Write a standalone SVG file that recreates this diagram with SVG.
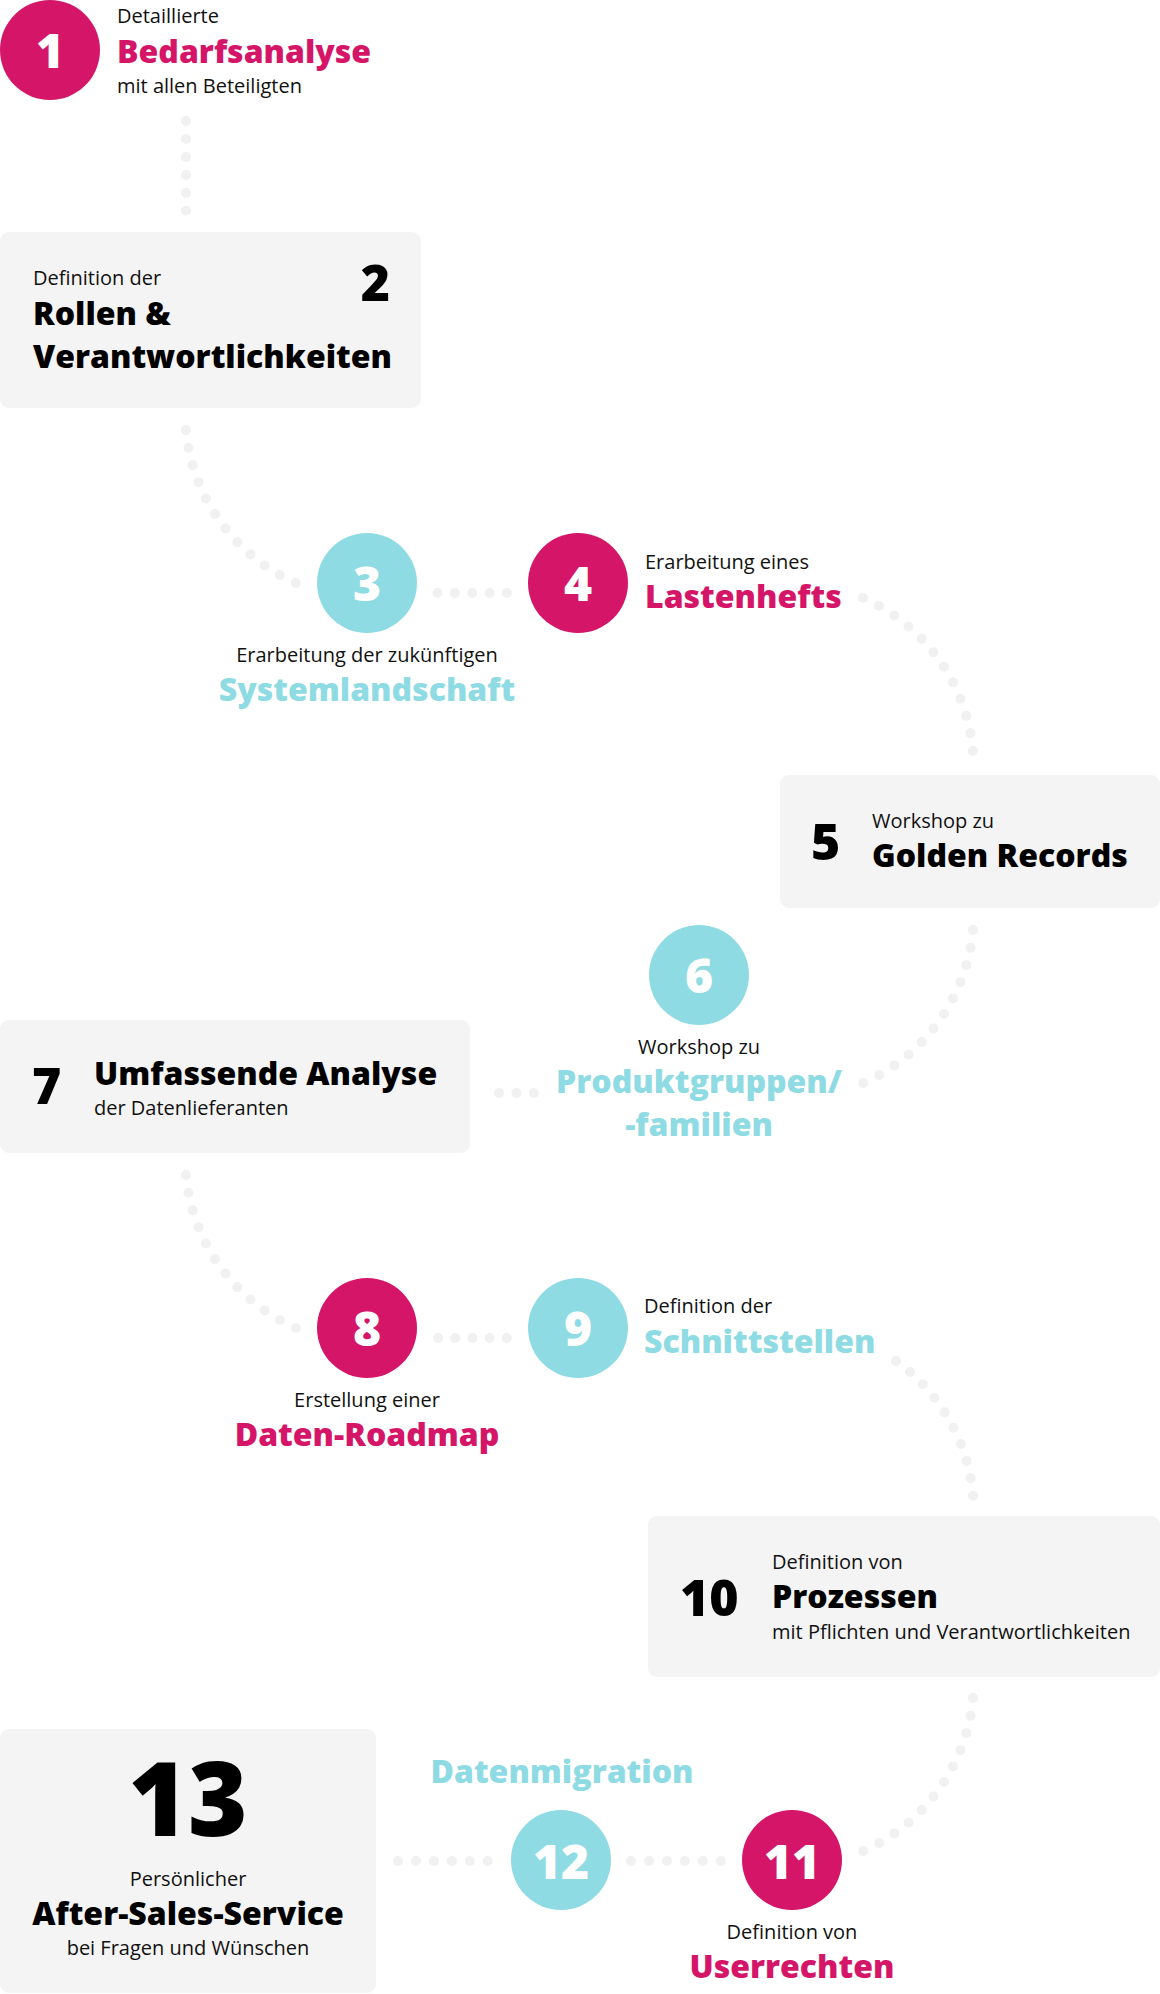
<svg xmlns="http://www.w3.org/2000/svg" width="1160" height="1994" viewBox="0 0 1160 1994">
<style>
text{font-family:"Open Sans","Noto Sans","Liberation Sans",sans-serif;}
.s{font-size:20px;font-weight:400;fill:#111;}
.h{font-size:32px;font-weight:800;}
.k{fill:#000;}
.m{fill:#d41568;}
.c{fill:#8fdbe3;}
.num{font-size:48px;font-weight:800;fill:#fff;text-anchor:middle;}
.bn{font-size:50px;font-weight:800;fill:#000;}
.mid{text-anchor:middle;}
.box{fill:#f4f4f4;}
.dot{fill:none;stroke:#f1f1f1;stroke-width:10;stroke-linecap:round;stroke-dasharray:0 1;}
</style>
<rect width="1160" height="1994" fill="#fff"/>
<g id="connectors">
<path class="dot" pathLength="5.01" d="M186,121 L186,211"/>
<path class="dot" pathLength="11.01" d="M186,430 A185.5,185.5 0 0 0 296,583"/>
<path class="dot" pathLength="4.01" d="M437.5,593 L507,593"/>
<path class="dot" pathLength="11.01" d="M863,598 A185.5,185.5 0 0 1 973,751"/>
<path class="dot" pathLength="11.01" d="M973,930 A185.5,185.5 0 0 1 863,1083"/>
<path class="dot" pathLength="2.01" d="M499,1093 L534,1093"/>
<path class="dot" pathLength="11.01" d="M186,1175 A185.5,185.5 0 0 0 296,1328"/>
<path class="dot" pathLength="4.01" d="M438,1338 L507,1338"/>
<path class="dot" pathLength="9.01" d="M896,1361 A185.5,185.5 0 0 1 973,1496"/>
<path class="dot" pathLength="11.01" d="M973,1698 A185.5,185.5 0 0 1 863,1851"/>
<path class="dot" pathLength="5.01" d="M631,1861 L721,1861"/>
<path class="dot" pathLength="5.01" d="M398,1861 L488,1861"/>
</g>
<g id="node1">
<circle cx="50" cy="50" r="50" class="m"/>
<text x="50" y="68" class="num">1</text>
<text x="117" y="23" class="s">Detaillierte</text>
<text x="117" y="63" class="h m">Bedarfsanalyse</text>
<text x="117" y="93" class="s">mit allen Beteiligten</text>
</g>
<g id="node2">
<rect x="0" y="232" width="421" height="176" rx="9" class="box"/>
<text x="33" y="285" class="s">Definition der</text>
<text x="33" y="325" class="h k">Rollen &amp;</text>
<text x="33" y="368" class="h k">Verantwortlichkeiten</text>
<text x="390" y="301" class="bn" text-anchor="end">2</text>
</g>
<g id="node3">
<circle cx="367" cy="583" r="50" class="c"/>
<text x="367" y="601" class="num">3</text>
<text x="367" y="662" class="s mid">Erarbeitung der zukünftigen</text>
<text x="367" y="701" class="h c mid">Systemlandschaft</text>
</g>
<g id="node4">
<circle cx="578" cy="583" r="50" class="m"/>
<text x="578" y="601" class="num">4</text>
<text x="645" y="569" class="s">Erarbeitung eines</text>
<text x="645" y="608" class="h m">Lastenhefts</text>
</g>
<g id="node5">
<rect x="780" y="775" width="380" height="133" rx="9" class="box"/>
<text x="811" y="860" class="bn">5</text>
<text x="872" y="828" class="s">Workshop zu</text>
<text x="872" y="867" class="h k">Golden Records</text>
</g>
<g id="node6">
<circle cx="699" cy="975" r="50" class="c"/>
<text x="699" y="993" class="num">6</text>
<text x="699" y="1054" class="s mid">Workshop zu</text>
<text x="699" y="1093" class="h c mid">Produktgruppen/</text>
<text x="699" y="1136" class="h c mid">-familien</text>
</g>
<g id="node7">
<rect x="0" y="1020" width="470" height="133" rx="9" class="box"/>
<text x="32" y="1104" class="bn">7</text>
<text x="94" y="1085" class="h k">Umfassende Analyse</text>
<text x="94" y="1115" class="s">der Datenlieferanten</text>
</g>
<g id="node8">
<circle cx="367" cy="1328" r="50" class="m"/>
<text x="367" y="1346" class="num">8</text>
<text x="367" y="1407" class="s mid">Erstellung einer</text>
<text x="367" y="1446" class="h m mid">Daten-Roadmap</text>
</g>
<g id="node9">
<circle cx="578" cy="1328" r="50" class="c"/>
<text x="578" y="1346" class="num">9</text>
<text x="644" y="1313" class="s">Definition der</text>
<text x="644" y="1353" class="h c">Schnittstellen</text>
</g>
<g id="node10">
<rect x="648" y="1516" width="512" height="161" rx="9" class="box"/>
<text x="680" y="1616" class="bn">10</text>
<text x="772" y="1569" class="s">Definition von</text>
<text x="772" y="1608" class="h k">Prozessen</text>
<text x="772" y="1639" class="s">mit Pflichten und Verantwortlichkeiten</text>
</g>
<g id="node11">
<circle cx="792" cy="1860" r="50" class="m"/>
<text x="792" y="1879" class="num">11</text>
<text x="792" y="1939" class="s mid">Definition von</text>
<text x="792" y="1978" class="h m mid">Userrechten</text>
</g>
<g id="node12">
<circle cx="561" cy="1860" r="50" class="c"/>
<text x="561" y="1879" class="num">12</text>
<text x="562" y="1783" class="h c mid">Datenmigration</text>
</g>
<g id="node13">
<rect x="0" y="1729" width="376" height="264" rx="9" class="box"/>
<text x="188" y="1836" class="mid" style="font-size:102px;font-weight:800;fill:#000;">13</text>
<text x="188" y="1886" class="s mid">Persönlicher</text>
<text x="188" y="1925" class="h k mid">After-Sales-Service</text>
<text x="188" y="1955" class="s mid">bei Fragen und Wünschen</text>
</g>
</svg>
